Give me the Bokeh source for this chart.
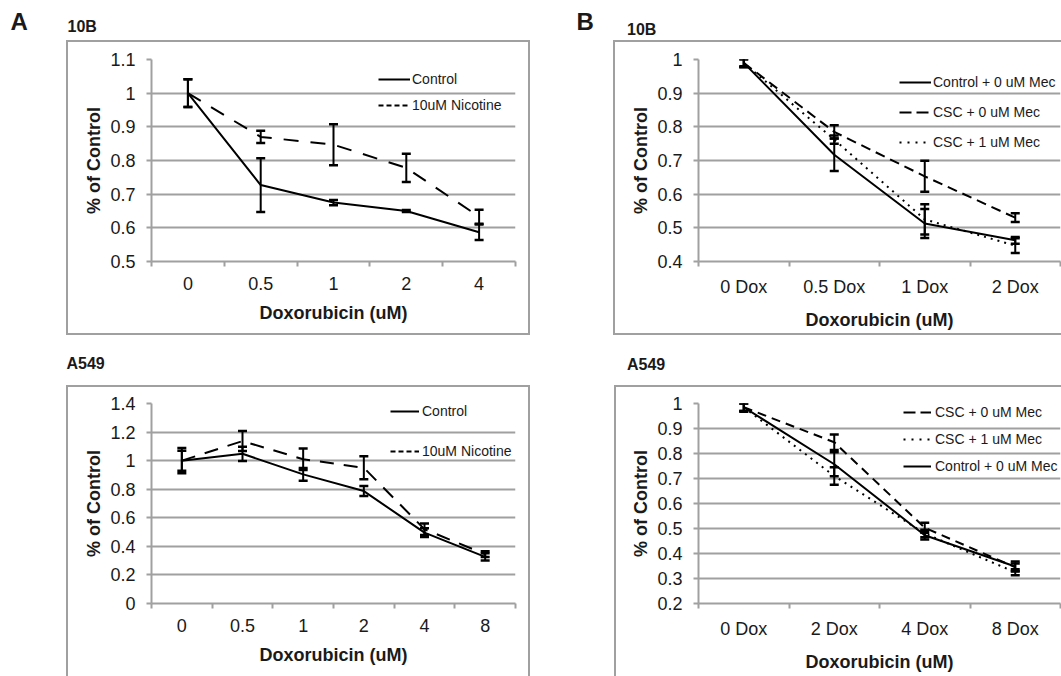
from bokeh.plotting import figure
from bokeh.models import (Range1d, FixedTicker, Legend, LegendItem, Whisker, TeeHead,
                          ColumnDataSource, Label, Spacer)
from bokeh.layouts import row, column
from bokeh.embed import file_html
from bokeh.resources import INLINE

FONT = "Liberation Sans"
GRAY = "#a0a0a0"
INK = "#1a1a1a"
NAN = float("nan")

# ---------------- data ----------------
# Panel A, 10B
a10_cats = ["0", "0.5", "1", "2", "4"]
a10_control = [1.0, 0.727, 0.675, 0.650, 0.587]
a10_control_err = [0.041, 0.080, 0.008, 0.003, 0.023]
a10_nicotine = [1.0, 0.870, 0.847, 0.778, 0.633]
a10_nicotine_err = [0.041, 0.018, 0.061, 0.042, 0.021]
a10_yticks = [0.5, 0.6, 0.7, 0.8, 0.9, 1.0, 1.1]
a10_ylabels = ["0.5", "0.6", "0.7", "0.8", "0.9", "1", "1.1"]

# Panel A, A549
aa_cats = ["0", "0.5", "1", "2", "4", "8"]
aa_control = [1.0, 1.048, 0.904, 0.787, 0.496, 0.326]
aa_control_err = [0.088, 0.05, 0.045, 0.035, 0.03, 0.025]
aa_nicotine = [1.0, 1.137, 1.01, 0.95, 0.52, 0.345]
aa_nicotine_err = [0.07, 0.07, 0.075, 0.08, 0.04, 0.02]
aa_yticks = [0.0, 0.2, 0.4, 0.6, 0.8, 1.0, 1.2, 1.4]
aa_ylabels = ["0", "0.2", "0.4", "0.6", "0.8", "1", "1.2", "1.4"]

# Panel B, 10B
b10_cats = ["0 Dox", "0.5 Dox", "1 Dox", "2 Dox"]
b10_control = [0.99, 0.717, 0.513, 0.463]
b10_control_err = [0.013, 0.048, 0.043, 0.010]
b10_csc0 = [0.99, 0.785, 0.653, 0.530]
b10_csc0_err = [0.010, 0.020, 0.046, 0.013]
b10_csc1 = [0.99, 0.762, 0.525, 0.447]
b10_csc1_err = [0.012, 0.012, 0.045, 0.022]
b10_yticks = [0.4, 0.5, 0.6, 0.7, 0.8, 0.9, 1.0]
b10_ylabels = ["0.4", "0.5", "0.6", "0.7", "0.8", "0.9", "1"]

# Panel B, A549
ba_cats = ["0 Dox", "2 Dox", "4 Dox", "8 Dox"]
ba_csc0 = [0.985, 0.845, 0.503, 0.345]
ba_csc0_err = [0.015, 0.031, 0.020, 0.015]
ba_csc1 = [0.985, 0.710, 0.480, 0.325]
ba_csc1_err = [0.015, 0.035, 0.015, 0.012]
ba_control = [0.985, 0.757, 0.473, 0.348]
ba_control_err = [0.018, 0.048, 0.017, 0.020]
ba_yticks = [0.2, 0.3, 0.4, 0.5, 0.6, 0.7, 0.8, 0.9, 1.0]
ba_ylabels = ["0.2", "0.3", "0.4", "0.5", "0.6", "0.7", "0.8", "0.9", "1"]


def panel(width, height, cats, series, yticks, ylabels, borders, mb, legend_cfg):
    n = len(cats)
    xs = [i + 0.5 for i in range(n)]
    p = figure(width=width, height=height, x_range=Range1d(0, n),
               y_range=Range1d(yticks[0], yticks[-1]), toolbar_location=None,
               output_backend="svg", title=None,
               min_border_left=mb[0], min_border_right=mb[1],
               min_border_top=mb[2], min_border_bottom=mb[3])
    p.background_fill_color = None
    p.border_fill_color = None
    p.outline_line_color = None
    p.styles = {"box-shadow": borders}

    # axes
    p.xaxis.ticker = FixedTicker(ticks=xs, minor_ticks=list(range(n + 1)))
    p.xaxis.major_label_overrides = dict(zip(xs, cats))
    p.yaxis.ticker = FixedTicker(ticks=yticks)
    p.yaxis.major_label_overrides = dict(zip(yticks, ylabels))
    p.xgrid.visible = False
    p.ygrid.grid_line_color = GRAY
    p.ygrid.grid_line_width = 2
    for ax in (p.xaxis[0], p.yaxis[0]):
        ax.axis_line_color = GRAY
        ax.axis_line_width = 2
        ax.major_label_text_font = FONT
        ax.major_label_text_font_size = "18px"
        ax.major_label_text_color = INK
        ax.axis_label_text_font = FONT
        ax.axis_label_text_font_size = "18px"
        ax.axis_label_text_font_style = "bold"
        ax.axis_label_text_color = INK
    p.xaxis.axis_label = "Doxorubicin (uM)"
    p.yaxis.axis_label = "% of Control"
    p.xaxis.axis_label_standoff = 10
    p.yaxis.axis_label_standoff = 3
    p.xaxis.major_tick_out = 0
    p.xaxis.major_tick_in = 0
    p.xaxis.minor_tick_out = 5
    p.xaxis.minor_tick_in = 0
    p.xaxis.minor_tick_line_color = GRAY
    p.xaxis.minor_tick_line_width = 2
    p.xaxis.major_label_standoff = 10
    p.yaxis.major_tick_out = 5
    p.yaxis.major_tick_in = 0
    p.yaxis.minor_tick_out = 0
    p.yaxis.minor_tick_in = 0
    p.yaxis.major_tick_line_color = GRAY
    p.yaxis.major_tick_line_width = 2
    p.yaxis.major_label_standoff = 11

    items = []
    for label, vals, errs, dash, ldash in series:
        p.line(xs, vals, line_color="black", line_width=2, line_dash=dash)
        src = ColumnDataSource(dict(base=xs,
                                    upper=[v + e for v, e in zip(vals, errs)],
                                    lower=[v - e for v, e in zip(vals, errs)]))
        w = Whisker(source=src, base="base", upper="upper", lower="lower",
                    line_color="black", line_width=2, level="overlay",
                    upper_head=TeeHead(size=9, line_width=2.5, line_color="black"),
                    lower_head=TeeHead(size=9, line_width=2.5, line_color="black"))
        p.add_layout(w)
        # legend-only sample (no visible data), styled like the original key
        dummy = p.line(xs[:2], [NAN, NAN], line_color="black", line_width=2,
                       line_dash=ldash)
        items.append(LegendItem(label=label, renderers=[dummy]))

    loc, gw, standoff, spacing = legend_cfg
    lg = Legend(items=items, location=loc, glyph_width=gw, glyph_height=20,
                label_height=20, label_standoff=standoff, spacing=spacing,
                padding=0, margin=0, border_line_color=None,
                background_fill_alpha=0, label_text_font=FONT,
                label_text_font_size="14px", label_text_color=INK)
    p.add_layout(lg)
    return p


def header(width, height, labels):
    p = figure(width=width, height=height, x_range=Range1d(0, width),
               y_range=Range1d(height, 0), toolbar_location=None,
               output_backend="svg", title=None, x_axis_type=None,
               y_axis_type=None, min_border=0)
    p.background_fill_color = None
    p.border_fill_color = None
    p.outline_line_color = None
    p.grid.visible = False
    for text, x, y, size in labels:
        p.add_layout(Label(x=x, y=y, text=text, text_font=FONT,
                           text_font_style="bold", text_font_size=size,
                           text_color=INK, text_baseline="middle",
                           text_align="left"))
    return p


ALL = f"inset 0 0 0 2px {GRAY}"
NO_RIGHT = f"inset 2px 0 0 {GRAY}, inset 0 2px 0 {GRAY}, inset 0 -2px 0 {GRAY}"
NO_BOTTOM = f"inset 2px 0 0 {GRAY}, inset 0 2px 0 {GRAY}, inset -2px 0 0 {GRAY}"
TOP_LEFT = f"inset 2px 0 0 {GRAY}, inset 0 2px 0 {GRAY}"

pa = panel(464, 295, a10_cats,
           [("Control", a10_control, a10_control_err, "solid", "solid"),
            ("10uM Nicotine", a10_nicotine, a10_nicotine_err, "15 12", "5 3")],
           a10_yticks, a10_ylabels, ALL, (85, 15, 19, 73),
           ((227, 146), 32, 2, 6))

pb = panel(448, 295, b10_cats,
           [("Control + 0 uM Mec", b10_control, b10_control_err, "solid", "solid"),
            ("CSC + 0 uM Mec", b10_csc0, b10_csc0_err, "10 6", "12 5"),
            ("CSC + 1 uM Mec", b10_csc1, b10_csc1_err, "2 5", "2 6")],
           b10_yticks, b10_ylabels, NO_RIGHT, (85, 1, 19, 74),
           ((201, 109), 32, 2, 10))

pc = panel(464, 291, aa_cats,
           [("Control", aa_control, aa_control_err, "solid", "solid"),
            ("10uM Nicotine", aa_nicotine, aa_nicotine_err, "14 10", "5 3")],
           aa_yticks, aa_ylabels, NO_BOTTOM, (85, 15, 18, 70),
           ((239, 142), 29, 3, 20))

pd_ = panel(447, 291, ba_cats,
            [("CSC + 0 uM Mec", ba_csc0, ba_csc0_err, "9 6", "12 5"),
             ("CSC + 1 uM Mec", ba_csc1, ba_csc1_err, "2 5", "2 6"),
             ("Control + 0 uM Mec", ba_control, ba_control_err, "solid", "solid")],
            ba_yticks, ba_ylabels, TOP_LEFT, (84, 1, 17, 73),
            ((205, 127), 28, 4, 7))

h1 = header(1061, 40, [("A", 10, 20.5, "24px"), ("10B", 67, 26, "16px"),
                       ("B", 576, 20.5, "24px"), ("10B", 626.5, 28.5, "16px")])
h2 = header(1061, 50, [("A549", 66, 28, "16px"), ("A549", 626.5, 29, "16px")])

layout = column(
    h1,
    row(Spacer(width=66, height=295), pa, Spacer(width=83, height=295), pb),
    h2,
    row(Spacer(width=66, height=291), pc, Spacer(width=84, height=291), pd_),
)

open("out.html", "w").write(file_html(layout, INLINE))
